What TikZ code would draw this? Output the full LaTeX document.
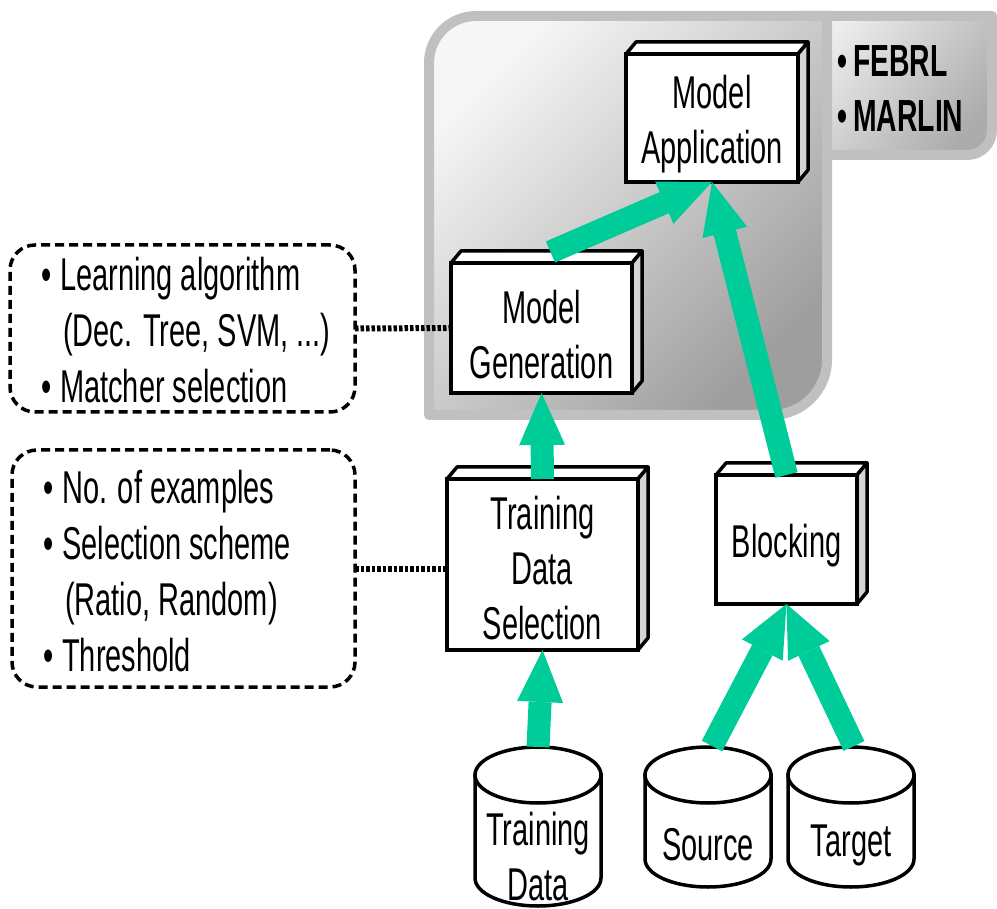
\documentclass[tikz,border=0pt]{standalone}
\usepackage{fontspec}
\setmainfont{Liberation Sans}[FakeStretch=0.63]
\usetikzlibrary{arrows.meta,calc}
\definecolor{mint}{RGB}{0,204,153}
\definecolor{pborder}{RGB}{192,192,192}
\definecolor{plight}{RGB}{246,246,246}
\definecolor{pdark}{RGB}{158,158,158}
\definecolor{tlight}{RGB}{238,238,238}
\definecolor{tdark}{RGB}{172,172,172}
\definecolor{sidegray}{RGB}{212,212,212}
\newcommand{\bul}{\makebox[19pt][l]{•}}
\newcommand{\contind}{\hspace*{22pt}}
\newcommand{\drawcyl}[3]{%
  \path[cyl] (#1-63,#2) -- (#1-63,#3) .. controls (#1-63,#3+15.5) and (#1-35,#3+28) .. (#1,#3+28)
     .. controls (#1+35,#3+28) and (#1+63,#3+15.5) .. (#1+63,#3) -- (#1+63,#2) -- cycle;
  \path[cyl] (#1,#2) ellipse [x radius=63, y radius=28];
}
\begin{document}
\begin{tikzpicture}[x=1pt,y=-1pt,
  txt/.style={font=\fontsize{46}{55}\selectfont, inner sep=0pt, align=center},
  cube/.style={draw, line width=3.5pt, fill=white, inner sep=0pt, outer sep=0pt},
  face/.style={draw, line width=3.5pt, line join=round},
  dbox/.style={draw, line width=3.5pt, dash pattern=on 9pt off 5pt, rounded corners=25pt, inner sep=0pt, outer sep=0pt},
  dtext/.style={font=\fontsize{46}{56}\selectfont, inner sep=0pt, align=left, anchor=west},
  dotline/.style={line width=6pt, dash pattern=on 3.5pt off 2pt},
  garrow/.style={draw=mint, line width=23pt, -{Triangle[width=46pt,length=52pt,line width=0pt]}},
  cyl/.style={draw, line width=3.5pt, fill=white},
  panel/.style={draw=pborder, line width=10pt, line join=round},
]
\useasboundingbox (0,0) rectangle (997,909);

% gray tab and panel
\path[panel, top color=tlight, bottom color=tdark, shading angle=50]
  (800,16) -- (992,16) -- (992,130) .. controls (992,144) and (981,155) .. (967,155) -- (800,155) -- cycle;
\path[panel, top color=plight, bottom color=pdark, shading angle=45]
  (429,415) -- (429,63) .. controls (429,37) and (450,16) .. (476,16) -- (827,16) -- (827,360)
  .. controls (827,390) and (802,415) .. (772,415) -- cycle;
\node[anchor=west, inner sep=0pt, align=left, font=\fontsize{45}{55}\selectfont\bfseries] (tools) at (837,89)
  {\makebox[16pt][l]{•}FEBRL\\\makebox[16pt][l]{•}MARLIN};

% 3D boxes
\node[cube, minimum width=172pt, minimum height=128pt] (ma) at (712,118) {};
\node[cube, minimum width=181pt, minimum height=130pt] (mg) at (541.5,328) {};
\node[cube, minimum width=191pt, minimum height=171pt] (tds) at (542.5,564.5) {};
\node[cube, minimum width=141pt, minimum height=129pt] (blk) at (786.5,539.5) {};
\foreach \n in {ma,mg,tds,blk}{
  \draw[face, fill=white] (\n.north west) -- ++(10,-12) -- ($(\n.north east)+(10,-12)$) -- (\n.north east) -- cycle;
  \draw[face, fill=sidegray] (\n.north east) -- ++(10,-12) -- ($(\n.south east)+(10,-12)$) -- (\n.south east) -- cycle;
}
\node[txt] (mat) at (712,124.5) {Model\\Application};
\node[txt] (mgt) at (541.5,335) {Model\\Generation};
\node[txt] (tdst) at (542.5,568.5) {Training\\Data\\Selection};
\node[txt] (blkt) at (786.5,546) {Blocking};

% dashed boxes
\node[dbox, minimum width=345pt, minimum height=167pt] (lb) at (182.5,328.5) {};
\node[dtext] (lt) at (41,330) {\bul Learning algorithm\\\contind(Dec. Tree, SVM, ...)\\\bul Matcher selection};
\node[dbox, minimum width=343pt, minimum height=237pt] (sb) at (183.5,568.5) {};
\node[dtext] (st) at (43,571) {\bul No. of examples\\\bul Selection scheme\\\contind(Ratio, Random)\\\bul Threshold};
\draw[dotline] (lb.east) -- (mg.west);
\draw[dotline] (sb.east) -- (tds.west |- sb.east);

% cylinders
\drawcyl{538}{775}{878}
\drawcyl{708}{775}{859}
\drawcyl{851}{775}{859}
\node[txt] (td) at (538,857) {Training\\Data};
\node[txt] (src) at (708,845) {Source};
\node[txt] (tgt) at (851,845) {Target};
\coordinate (tdtop) at (538,747);
\coordinate (srctop) at (712,746);
\coordinate (tgttop) at (854,746);

% arrows
\draw[garrow] (tdtop) -- (tds.south);
\draw[garrow] (tds.north) -- (mg.south);
\draw[garrow] ($(mg.north)+(9,-11)$) -- (ma.south);
\draw[garrow] (blk.north) -- (ma.south);
\draw[garrow] (srctop) -- (blk.south);
\draw[garrow] (tgttop) -- (blk.south);
\end{tikzpicture}
\end{document}
